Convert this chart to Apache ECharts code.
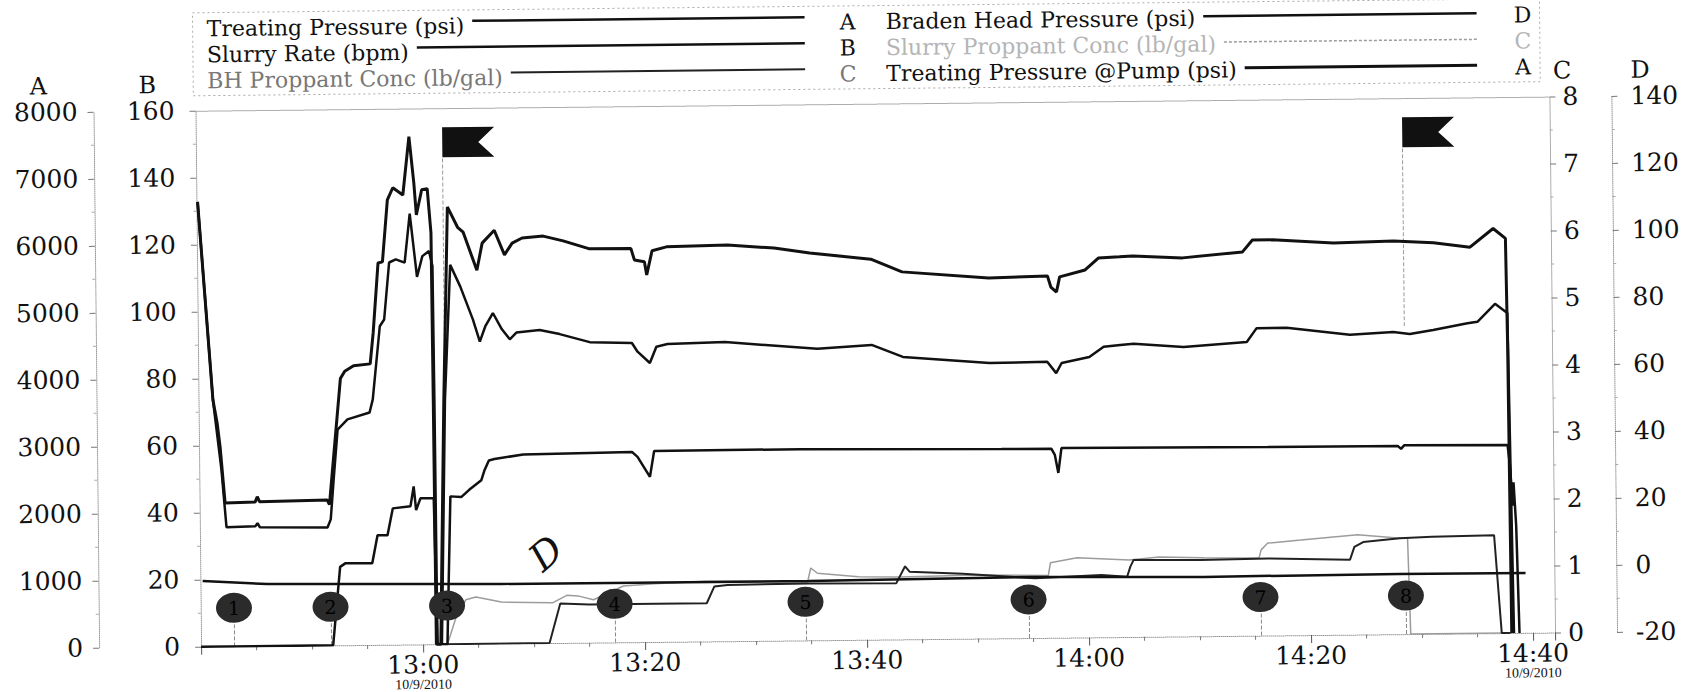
<!DOCTYPE html>
<html>
<head>
<meta charset="utf-8">
<title>Treatment plot</title>
<script src="https://cdn.jsdelivr.net/npm/echarts@6/dist/echarts.min.js"></script>
<style>
  html, body { margin: 0; padding: 0; background: #fff; overflow: hidden; }
  /* the scan is tilted a little, right side higher */
  #chart { width: 1684px; height: 692px; transform: rotate(-0.6deg); transform-origin: 50% 50%; }
</style>
</head>
<body>
<div id="chart"></div>
<script>
// x values are minutes after 12:00 (10/9/2010)
const pumpPressure = [[40.1,6640],[41.3,3680],[41.65,3340],[41.9,2980],[42.3,2140],[45.0,2150],[45.2,2230],[45.4,2155],[51.5,2170],[51.7,2100],[52.8,3980],[53.2,4090],[54.0,4170],[55.5,4195],[55.8,4660],[56.3,5700],[56.7,5715],[57.2,6640],[57.7,6820],[58.6,6710],[59.2,7580],[59.6,6890],[59.8,6410],[60.3,6785],[60.8,6800],[61.1,6140],[61.15,3650],[61.2,0],[61.6,0],[62.1,3645],[62.6,6525],[63.5,6220],[64.0,6145],[65.2,5575],[65.7,5980],[66.8,6170],[67.7,5800],[68.4,5975],[69.3,6050],[71.2,6075],[73.0,6000],[75.3,5880],[79.1,5875],[79.4,5705],[80.3,5675],[80.5,5480],[81.0,5840],[82.3,5895],[87.8,5915],[92.0,5860],[95.2,5780],[100.7,5680],[103.5,5485],[111.3,5380],[116.6,5400],[116.9,5235],[117.4,5160],[117.7,5385],[120.0,5485],[121.2,5660],[123.1,5675],[124.3,5685],[128.8,5650],[134.2,5730],[135.1,5905],[136.9,5905],[142.4,5850],[147.8,5870],[151.4,5835],[154.7,5765],[156.8,6040],[157.9,5890],[158.0,4270],[158.1,0]]
const treatPressure = [[40.1,6640],[41.3,3680],[42.0,2635],[42.4,1780],[45.0,1790],[45.2,1835],[45.4,1775],[51.5,1760],[51.8,1880],[52.1,2475],[52.5,3220],[53.4,3370],[55.4,3470],[55.7,3665],[56.4,4755],[56.8,4855],[57.3,5705],[57.9,5750],[58.7,5700],[59.2,6430],[59.8,5485],[60.3,5795],[60.9,5870],[61.2,5645],[61.25,3645],[61.3,0],[61.7,0],[62.2,3645],[62.8,5660],[63.7,5330],[64.8,4840],[65.4,4510],[65.9,4735],[66.6,4935],[67.4,4690],[68.1,4540],[68.7,4640],[70.8,4675],[72.6,4610],[75.3,4485],[79.1,4465],[79.6,4335],[80.7,4165],[81.3,4405],[82.3,4445],[87.5,4465],[95.8,4350],[100.7,4400],[103.5,4215],[111.3,4110],[116.5,4120],[117.3,3950],[117.8,4100],[120.3,4185],[121.6,4335],[123.1,4360],[124.3,4375],[128.8,4320],[134.5,4385],[135.4,4590],[138.1,4590],[143.8,4475],[147.7,4510],[149.2,4480],[151.3,4535],[154.4,4630],[155.3,4650],[156.9,4915],[158.0,4775],[158.3,0]]
const slurryRate = [[40.0,0],[51.9,0],[52.6,23.4],[53.1,24.5],[55.5,24.4],[56.0,32.7],[56.9,32.7],[57.4,40.7],[59.0,41.3],[59.3,47.2],[59.5,40.1],[59.9,43.6],[61.1,43.6],[61.3,0],[62.2,0],[62.6,44.1],[63.6,43.9],[64.3,46.0],[65.4,48.8],[65.7,51.8],[66.1,54.7],[66.6,55.1],[69.2,56.4],[79.0,56.8],[79.5,55.3],[80.6,49.3],[81.0,57.0],[94.2,57.1],[112.3,56.5],[116.8,56.4],[117.1,54.6],[117.4,49.2],[117.7,56.6],[136.3,56.3],[148.0,56.2],[148.3,55.3],[148.6,56.4],[157.9,56.1],[158.1,50],[158.3,38],[158.4,45],[158.6,32],[158.8,0]]
const bradenHead = [[40.2,-0.4],[46.0,-1.5],[51.9,-1.7],[67.1,-2.2],[94.8,-2.3],[115.0,-1.8],[130.4,-2.3],[148.0,-2.0],[159.4,-2.1]]
const bhProppant = [[62.0,0],[71.4,0],[72.4,0.59],[75.0,0.57],[81.0,0.57],[85.6,0.57],[86.3,0.82],[87.5,0.84],[94.8,0.85],[102.7,0.84],[103.5,1.09],[103.9,1.01],[108.7,0.97],[115.2,0.89],[121.2,0.93],[123.5,0.90],[123.8,1.05],[124.1,1.15],[130.1,1.14],[136.2,1.15],[143.6,1.12],[144.0,1.31],[144.8,1.38],[148.1,1.43],[151.0,1.45],[156.6,1.46],[157.2,0],[158.0,0]]
const slurryProppant = [[62.2,0],[63.0,0.40],[63.9,0.66],[64.8,0.70],[67.1,0.62],[71.7,0.60],[73.0,0.71],[74.0,0.70],[75.4,0.64],[78.1,0.84],[80.9,0.87],[85.5,0.90],[90.1,0.89],[94.7,0.87],[95.0,1.08],[95.6,1.00],[99.3,0.94],[103.0,0.93],[110.0,0.95],[116.4,0.93],[116.6,1.12],[119.0,1.19],[123.7,1.15],[126.4,1.19],[130.4,1.17],[135.4,1.16],[135.6,1.28],[136.2,1.38],[139.2,1.42],[144.3,1.49],[148.2,1.43],[148.8,1.43],[149.0,0],[157.5,0]]

// stage markers and flags
const eventTimes = [43.0, 51.7, 62.2, 77.3, 94.5, 114.6, 135.5, 148.6]
const eventLabels = ['1', '2', '3', '4', '5', '6', '7', '8']
const flagTimes = [62.2, 148.7]

// axis text
const timeLabels = ['13:00', '13:20', '13:40', '14:00', '14:20', '14:40']
const dateLabel = '10/9/2010'
const axisLetters = ['A', 'B', 'C', 'D']

// legend, two columns of three, with the axis letter after each line
const legendNames = [
  ['Treating Pressure (psi)', 'Slurry Rate (bpm)', 'BH Proppant Conc (lb/gal)'],
  ['Braden Head Pressure (psi)', 'Slurry Proppant Conc (lb/gal)', 'Treating Pressure @Pump (psi)']
]
const legendLetters = [['A', 'B', 'C'], ['D', 'C', 'A']]

const FONT = '"DejaVu Serif", serif'
const LEGEND_SIZE = 22
const looks = {
  'Treating Pressure (psi)': { line: '#111', width: 2.5, text: '#111' },
  'Slurry Rate (bpm)': { line: '#111', width: 2.5, text: '#111' },
  'BH Proppant Conc (lb/gal)': { line: '#222', width: 2, text: '#777' },
  'Braden Head Pressure (psi)': { line: '#111', width: 2.5, text: '#111' },
  'Slurry Proppant Conc (lb/gal)': { line: '#9c9c9c', width: 1.5, text: '#b5b5b5', dash: [3, 2] },
  'Treating Pressure @Pump (psi)': { line: '#111', width: 3, text: '#111' }
}

const measure = document.createElement('canvas').getContext('2d')
measure.font = LEGEND_SIZE + 'px "DejaVu Serif"'

function buildLegend() {
  const cols = [
    { x: 210, lineEnd: 808, letterX: 851, dy: -5 },
    { x: 889, lineEnd: 1480, letterX: 1526, dy: -2 }
  ]
  const rowY = [22, 48, 74]
  const font = LEGEND_SIZE + 'px ' + FONT
  const els = [{
    type: 'rect', shape: { x: 196, y: 6, width: 1347, height: 83 },
    style: { fill: 'none', stroke: '#aaa', lineWidth: 1, lineDash: [2, 3] }
  }]
  cols.forEach((c, ci) => {
    legendNames[ci].forEach((name, ri) => {
      const lk = looks[name]
      const y = rowY[ri]
      const w = measure.measureText(name).width
      els.push({ type: 'text', style: { text: name, x: c.x, y: y, fill: lk.text, font: font, align: 'left', verticalAlign: 'middle' } })
      els.push({ type: 'line', shape: { x1: c.x + w + 8, y1: y + c.dy, x2: c.lineEnd, y2: y + c.dy },
        style: { stroke: lk.line, lineWidth: lk.width, lineDash: lk.dash || null } })
      els.push({ type: 'text', style: { text: legendLetters[ci][ri], x: c.letterX, y: y, fill: lk.text, font: font, align: 'center', verticalAlign: 'middle' } })
    })
  })
  // hand written note next to the braden head line
  els.push({ type: 'text', x: 544, y: 550, rotation: 0.7,
    style: { text: 'D', fill: '#111', font: 'italic 38px ' + FONT, align: 'center', verticalAlign: 'middle' } })
  return els
}

const chartInstance = echarts.init(document.getElementById('chart'), null, { renderer: 'svg' })

const dotted = { color: '#999', type: 'dotted', width: 1 }
const tickFont = { color: '#111', fontFamily: FONT, fontSize: 25 }

function yAxis(i, pos, offset, min, max, interval, margin, pad) {
  return {
    type: 'value', position: pos, offset: offset, min: min, max: max, interval: interval,
    name: axisLetters[i], nameLocation: 'end', nameGap: 14,
    nameTextStyle: { color: '#111', fontFamily: FONT, fontSize: 24, padding: pad },
    axisLine: { show: true, lineStyle: dotted },
    axisTick: { show: true, length: 6, lineStyle: { color: '#777' } },
    minorTick: { show: true, splitNumber: 2, length: 3, lineStyle: { color: '#aaa' } },
    splitLine: { show: false },
    axisLabel: Object.assign({ margin: margin, formatter: v => String(v) }, tickFont)
  }
}

function lineSeries(name, data, axis) {
  const lk = looks[name]
  return {
    name: name, type: 'line', yAxisIndex: axis, data: data,
    symbol: 'none', showSymbol: false, smooth: false,
    lineStyle: { color: lk.line, width: lk.width },
    z: 3
  }
}

const circleLevel = 0.575   // height of the stage markers, lb/gal scale
const flagLevel = 7490      // flags sit near the top, psi scale

const option = {
  animation: false,
  backgroundColor: '#fff',
  grid: { left: 198, right: 132, top: 104, bottom: 52, containLabel: false, outerBoundsMode: 'none' },
  xAxis: [{
    type: 'value', min: 40, max: 162, interval: 20, position: 'bottom',
    axisLine: { show: true, onZero: false, lineStyle: dotted },
    axisTick: { show: true, length: 8, lineStyle: { color: '#555' } },
    minorTick: { show: true, splitNumber: 4, length: 4, lineStyle: { color: '#777' } },
    splitLine: { show: false },
    axisLabel: {
      margin: 8,
      formatter: v => {
        if (v < 60 || v % 20 !== 0) return ''
        const t = timeLabels[(v - 60) / 20]
        return (v === 60 || v === 160) ? '{t|' + t + '}\n{d|' + dateLabel + '}' : '{t|' + t + '}'
      },
      rich: {
        t: { color: '#111', fontFamily: FONT, fontSize: 25, lineHeight: 25 },
        d: { color: '#111', fontFamily: '"Liberation Serif", serif', fontSize: 14, lineHeight: 14 }
      }
    }
  }, {
    type: 'value', min: 40, max: 162, position: 'top',
    axisLine: { show: true, onZero: false, lineStyle: dotted },
    axisTick: { show: false }, axisLabel: { show: false }, splitLine: { show: false }
  }],
  yAxis: [
    yAxis(0, 'left', 102, 0, 8000, 1000, 16, [0, 110, 0, 0]),
    yAxis(1, 'left', 0, 0, 160, 20, 21, [0, 96, 0, 0]),
    yAxis(2, 'right', 0, 0, 8, 1, 13, [0, 0, 0, 26]),
    yAxis(3, 'right', 62, -20, 140, 20, 19, [0, 0, 0, 58])
  ],
  graphic: buildLegend(),
  series: [
    lineSeries('Slurry Proppant Conc (lb/gal)', slurryProppant, 2),
    lineSeries('BH Proppant Conc (lb/gal)', bhProppant, 2),
    lineSeries('Braden Head Pressure (psi)', bradenHead, 3),
    lineSeries('Slurry Rate (bpm)', slurryRate, 1),
    lineSeries('Treating Pressure (psi)', treatPressure, 0),
    lineSeries('Treating Pressure @Pump (psi)', pumpPressure, 0),
    {
      // numbered stage markers with a dashed stem to the time axis
      type: 'scatter', yAxisIndex: 2, z: 10,
      data: eventTimes.map(t => [t, circleLevel]),
      symbol: 'circle', symbolSize: [36, 30],
      itemStyle: { color: '#2b2b2b', opacity: 1 },
      label: { show: true, position: 'inside', formatter: p => eventLabels[p.dataIndex],
        color: '#000', fontFamily: FONT, fontSize: 19 },
      markLine: {
        silent: true, symbol: 'none', z: 2, label: { show: false },
        lineStyle: { color: '#888', type: 'dashed', width: 1 },
        data: eventTimes.map(t => [{ coord: [t, 0] }, { coord: [t, circleLevel] }])
      }
    },
    {
      // stage flags
      type: 'scatter', yAxisIndex: 0, z: 10,
      data: flagTimes.map(t => [t, flagLevel]),
      symbol: 'path://M0 0H52L36 15L52 30H0Z', symbolSize: [52, 30], symbolOffset: ['50%', 0],
      itemStyle: { color: '#111', opacity: 1 },
      markLine: {
        silent: true, symbol: 'none', z: 2, label: { show: false },
        lineStyle: { color: '#999', type: 'dashed', width: 1 },
        data: flagTimes.map(t => [{ coord: [t, 7250] }, { coord: [t, 4600] }])
      }
    }
  ]
}

chartInstance.setOption(option)
</script>
</body>
</html>
